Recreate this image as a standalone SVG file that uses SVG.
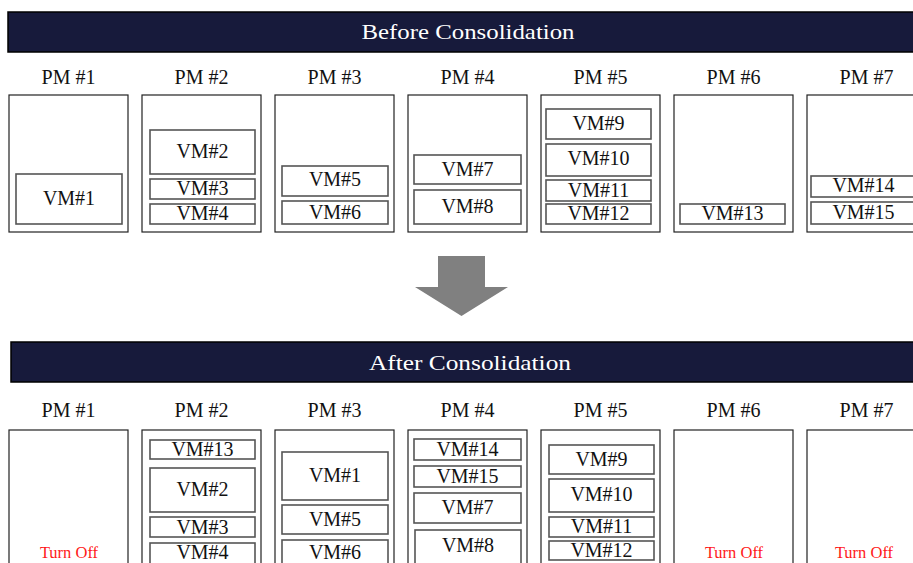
<svg xmlns="http://www.w3.org/2000/svg" width="913" height="563" viewBox="0 0 913 563">
<style>
.banner{fill:#171a3b;stroke:#000;stroke-width:1.5}
.btxt{font-family:'Liberation Serif',serif;font-size:21px;fill:#fff;text-anchor:middle}
.pm{fill:#fff;stroke:#222;stroke-width:1.2}
.vm{fill:#fff;stroke:#555;stroke-width:1.6}
.lbl{font-family:'Liberation Serif',serif;font-size:20px;fill:#111;text-anchor:middle}
.off{font-family:'Liberation Serif',serif;font-size:16.5px;fill:#ff1a1a;text-anchor:middle}
</style>
<rect width="913" height="563" fill="#fff"/>
<g id="banner-before"><rect class="banner" x="8" y="12" width="925" height="40"/><text class="btxt" x="468" y="39" textLength="213" lengthAdjust="spacingAndGlyphs">Before Consolidation</text></g>
<g id="banner-after"><rect class="banner" x="11" y="342" width="925" height="40"/><text class="btxt" x="470" y="370" textLength="202" lengthAdjust="spacingAndGlyphs">After Consolidation</text></g>

<g id="before-pm1"><text class="lbl" x="68.5" y="84">PM #1</text><rect class="pm" x="9" y="95" width="119" height="137"/>
<g id="before-vm1"><rect class="vm" x="16" y="174" width="106" height="50"/><text class="lbl" x="69" y="204.5">VM#1</text></g></g>
<g id="before-pm2"><text class="lbl" x="201.5" y="84">PM #2</text><rect class="pm" x="142" y="95" width="119" height="137"/>
<g id="before-vm2"><rect class="vm" x="150" y="130" width="105" height="44"/><text class="lbl" x="202.5" y="157.5">VM#2</text></g>
<g id="before-vm3"><rect class="vm" x="150" y="179" width="105" height="20"/><text class="lbl" x="202.5" y="195">VM#3</text></g>
<g id="before-vm4"><rect class="vm" x="150" y="204" width="105" height="20"/><text class="lbl" x="202.5" y="220">VM#4</text></g></g>
<g id="before-pm3"><text class="lbl" x="334.5" y="84">PM #3</text><rect class="pm" x="275" y="95" width="119" height="137"/>
<g id="before-vm5"><rect class="vm" x="282" y="166" width="106" height="30"/><text class="lbl" x="335" y="186">VM#5</text></g>
<g id="before-vm6"><rect class="vm" x="282" y="201" width="106" height="23"/><text class="lbl" x="335" y="218.5">VM#6</text></g></g>
<g id="before-pm4"><text class="lbl" x="467.5" y="84">PM #4</text><rect class="pm" x="408" y="95" width="119" height="137"/>
<g id="before-vm7"><rect class="vm" x="414" y="155" width="107" height="29"/><text class="lbl" x="467.5" y="176">VM#7</text></g>
<g id="before-vm8"><rect class="vm" x="414" y="190" width="107" height="34"/><text class="lbl" x="467.5" y="213">VM#8</text></g></g>
<g id="before-pm5"><text class="lbl" x="600.5" y="84">PM #5</text><rect class="pm" x="541" y="95" width="119" height="137"/>
<g id="before-vm9"><rect class="vm" x="546" y="109" width="105" height="30"/><text class="lbl" x="598.5" y="130">VM#9</text></g>
<g id="before-vm10"><rect class="vm" x="546" y="144" width="105" height="32"/><text class="lbl" x="598.5" y="165">VM#10</text></g>
<g id="before-vm11"><rect class="vm" x="546" y="180" width="105" height="21"/><text class="lbl" x="598.5" y="196.5">VM#11</text></g>
<g id="before-vm12"><rect class="vm" x="546" y="204" width="105" height="20"/><text class="lbl" x="598.5" y="220">VM#12</text></g></g>
<g id="before-pm6"><text class="lbl" x="733.5" y="84">PM #6</text><rect class="pm" x="674" y="95" width="119" height="137"/>
<g id="before-vm13"><rect class="vm" x="680" y="204" width="105" height="20"/><text class="lbl" x="732.5" y="220">VM#13</text></g></g>
<g id="before-pm7"><text class="lbl" x="866.5" y="84">PM #7</text><rect class="pm" x="807" y="95" width="119" height="137"/>
<g id="before-vm14"><rect class="vm" x="811" y="176" width="105" height="21"/><text class="lbl" x="863.5" y="192">VM#14</text></g>
<g id="before-vm15"><rect class="vm" x="811" y="202" width="105" height="22"/><text class="lbl" x="863.5" y="218.5">VM#15</text></g></g>

<g id="connectors"><polygon points="438,256 485,256 485,287 508,287 461.5,316 415,287 438,287" fill="#808080"/></g>

<g id="after-pm1"><text class="lbl" x="68.5" y="417">PM #1</text><rect class="pm" x="9" y="430" width="119" height="150"/>
<text class="off" x="69" y="558">Turn Off</text></g>
<g id="after-pm2"><text class="lbl" x="201.5" y="417">PM #2</text><rect class="pm" x="142" y="430" width="119" height="150"/>
<g id="after-vm13"><rect class="vm" x="150" y="440" width="105" height="19"/><text class="lbl" x="202.5" y="456">VM#13</text></g>
<g id="after-vm2"><rect class="vm" x="150" y="468" width="105" height="44"/><text class="lbl" x="202.5" y="495.5">VM#2</text></g>
<g id="after-vm3"><rect class="vm" x="150" y="517" width="105" height="20"/><text class="lbl" x="202.5" y="533.5">VM#3</text></g>
<g id="after-vm4"><rect class="vm" x="150" y="543" width="105" height="30"/><text class="lbl" x="202.5" y="558.5">VM#4</text></g></g>
<g id="after-pm3"><text class="lbl" x="334.5" y="417">PM #3</text><rect class="pm" x="275" y="430" width="119" height="150"/>
<g id="after-vm1"><rect class="vm" x="282" y="452" width="106" height="48"/><text class="lbl" x="335" y="482">VM#1</text></g>
<g id="after-vm5"><rect class="vm" x="282" y="505" width="106" height="29"/><text class="lbl" x="335" y="525.5">VM#5</text></g>
<g id="after-vm6"><rect class="vm" x="282" y="540" width="106" height="30"/><text class="lbl" x="335" y="558.5">VM#6</text></g></g>
<g id="after-pm4"><text class="lbl" x="467.5" y="417">PM #4</text><rect class="pm" x="408" y="430" width="119" height="150"/>
<g id="after-vm14"><rect class="vm" x="414" y="439" width="107" height="21"/><text class="lbl" x="467.5" y="456">VM#14</text></g>
<g id="after-vm15"><rect class="vm" x="414" y="466" width="107" height="21"/><text class="lbl" x="467.5" y="483">VM#15</text></g>
<g id="after-vm7"><rect class="vm" x="414" y="493" width="107" height="30"/><text class="lbl" x="467.5" y="514">VM#7</text></g>
<g id="after-vm8"><rect class="vm" x="415" y="530" width="106" height="40"/><text class="lbl" x="468" y="552">VM#8</text></g></g>
<g id="after-pm5"><text class="lbl" x="600.5" y="417">PM #5</text><rect class="pm" x="541" y="430" width="119" height="150"/>
<g id="after-vm9"><rect class="vm" x="549" y="445" width="105" height="29"/><text class="lbl" x="601.5" y="465.5">VM#9</text></g>
<g id="after-vm10"><rect class="vm" x="549" y="479" width="105" height="33"/><text class="lbl" x="601.5" y="501">VM#10</text></g>
<g id="after-vm11"><rect class="vm" x="549" y="517" width="105" height="20"/><text class="lbl" x="601.5" y="533">VM#11</text></g>
<g id="after-vm12"><rect class="vm" x="549" y="541" width="105" height="19"/><text class="lbl" x="601.5" y="557">VM#12</text></g></g>
<g id="after-pm6"><text class="lbl" x="733.5" y="417">PM #6</text><rect class="pm" x="674" y="430" width="119" height="150"/>
<text class="off" x="734" y="558">Turn Off</text></g>
<g id="after-pm7"><text class="lbl" x="866.5" y="417">PM #7</text><rect class="pm" x="807" y="430" width="119" height="150"/>
<text class="off" x="864" y="558">Turn Off</text></g>
</svg>
